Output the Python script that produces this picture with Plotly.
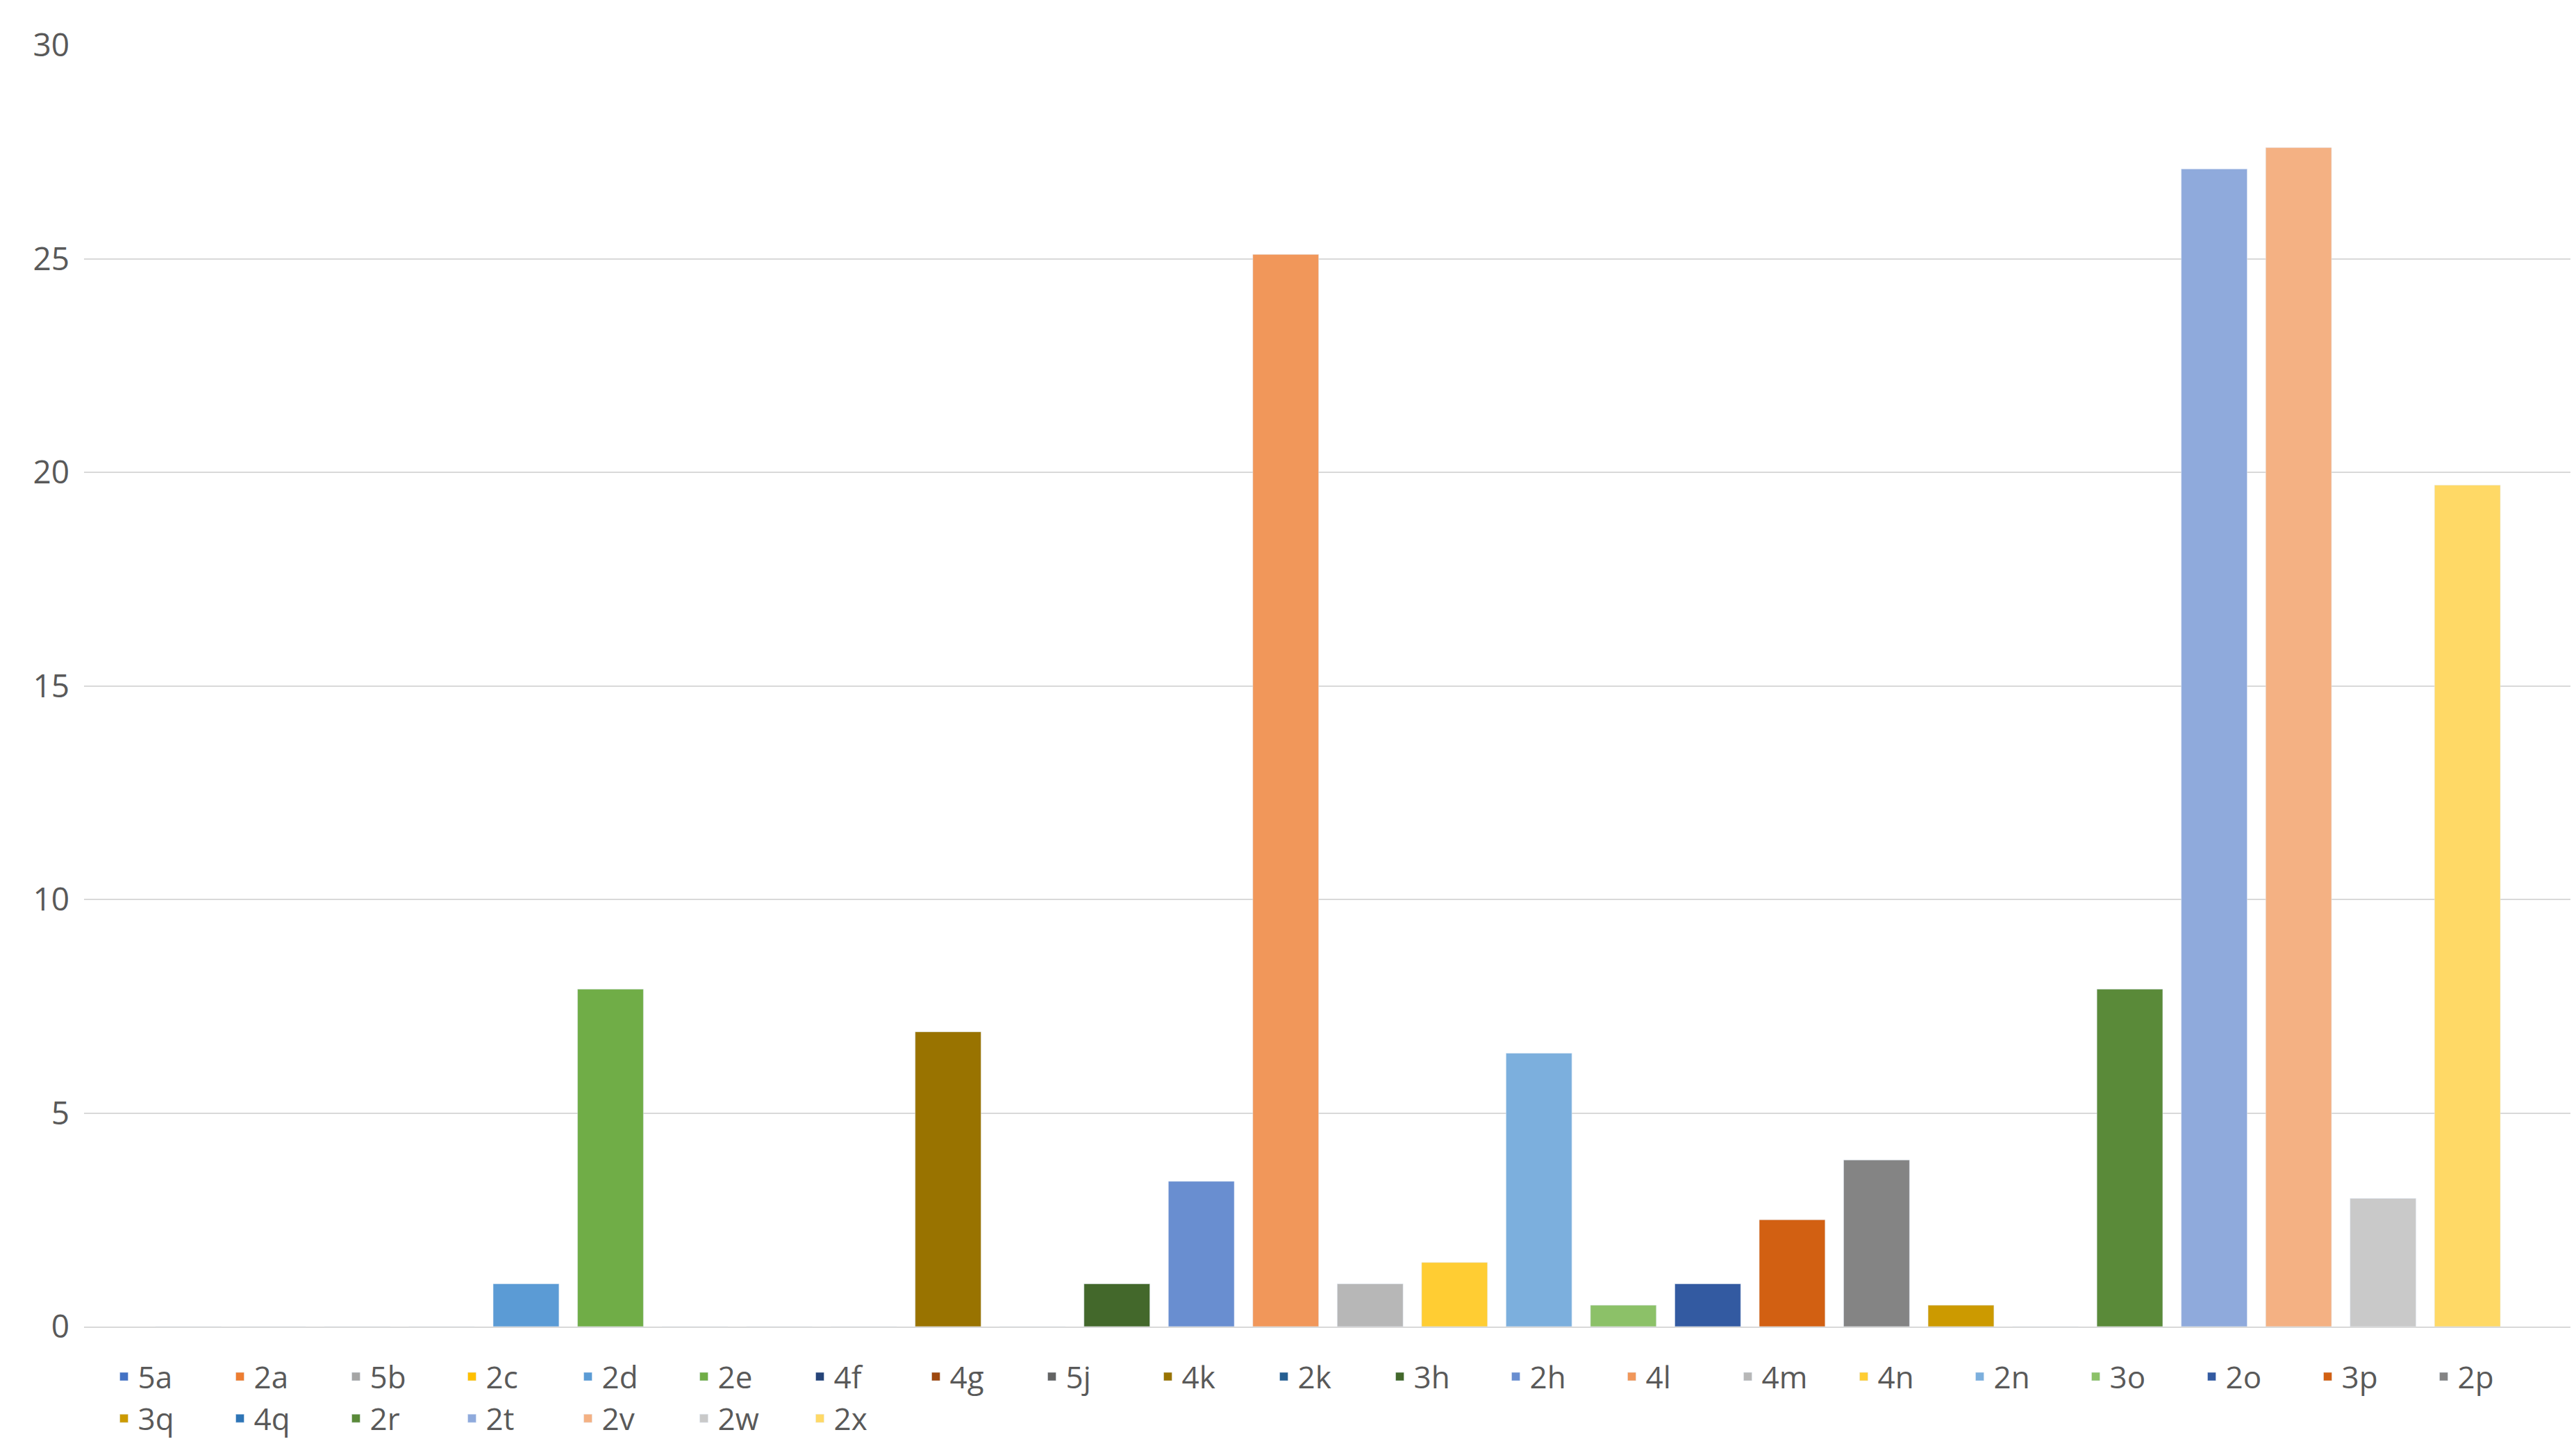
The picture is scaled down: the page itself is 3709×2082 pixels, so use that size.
import plotly.graph_objects as go

series = ["5a","2a","5b","2c","2d","2e","4f","4g","5j","4k","2k","3h","2h","4l","4m","4n","2n","3o","2o","3p","2p","3q","4q","2r","2t","2v","2w","2x"]
values = [0,0,0,0,1,7.9,0,0,0,6.9,0,1,3.4,25.1,1,1.5,6.4,0.5,1,2.5,3.9,0.5,0,7.9,27.1,27.6,3,19.7]
colors = ["#4472C4","#ED7D31","#A5A5A5","#FFC000","#5B9BD5","#70AD47","#264478","#9E480E","#636363","#997300",
          "#255E91","#43682B","#698ED0","#F1975A","#B7B7B7","#FFCD33","#7CAFDD","#8CC168","#335AA1","#D26012",
          "#848484","#CC9A00","#2E75B6","#5A8A39","#8FAADC","#F4B183","#C9C9C9","#FFD966"]
category = [""]

fig = go.Figure()
for s, v, c in zip(series, values, colors):
    fig.add_trace(go.Bar(name=s, x=category, y=[v], marker_color=c))

fig.update_layout(
    width=3709, height=2082, barmode="group", bargap=0.05, bargroupgap=0.22,
    plot_bgcolor="white", paper_bgcolor="white",
    font=dict(family="Open Sans, Liberation Sans, sans-serif", size=46, color="#595959"),
    margin=dict(l=113, r=14, t=57, b=124),
    legend=dict(orientation="h", x=0.5, xanchor="center", y=-0.02, yanchor="top",
                font=dict(size=44), entrywidth=122, entrywidthmode="pixels", itemwidth=30,
                tracegroupgap=0),
    yaxis=dict(range=[0, 30], dtick=5, gridcolor="#D9D9D9", gridwidth=2, zeroline=False,
               showline=False, ticks="", ticklabelstandoff=20),
    xaxis=dict(showticklabels=False, showline=True, linecolor="#D9D9D9", linewidth=2),
)
fig.write_html("out.html")
